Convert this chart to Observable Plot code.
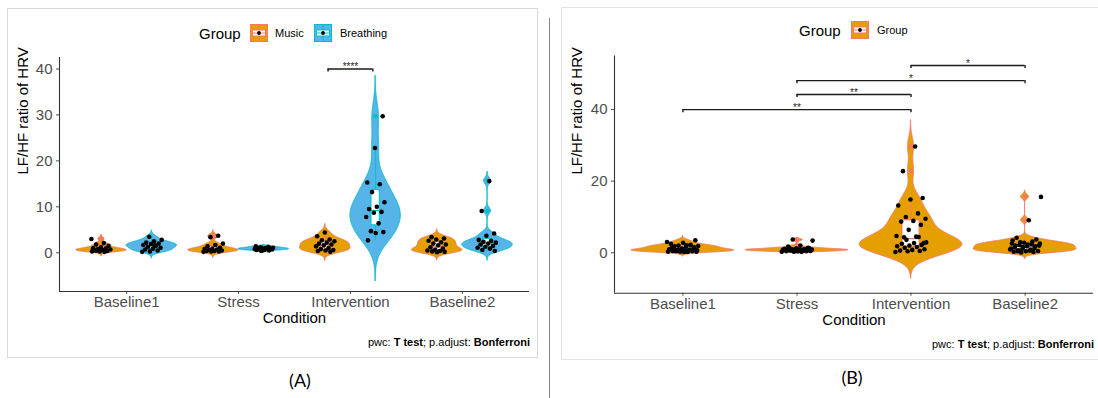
<!DOCTYPE html>
<html><head><meta charset="utf-8">
<script src="https://cdn.jsdelivr.net/npm/d3@7"></script>
<script src="https://cdn.jsdelivr.net/npm/@observablehq/plot@0.6"></script>
<style>
body{margin:0;background:#fff;font-family:'Liberation Sans',Arial,Helvetica,sans-serif;}
#page{position:relative;width:1098px;height:398px;overflow:hidden;background:#fff;}
.abs{position:absolute;white-space:nowrap;line-height:1;}
.vc{transform:translateY(-50%);}
</style></head><body><div id="page">
<div class="abs" style="left:7px;top:8px;width:529px;height:348px;border:1px solid #D9D9D9;"></div>
<div class="abs" style="left:561px;top:7px;width:545px;height:351px;border:1px solid #E3E3E3;"></div>
<div class="abs" style="left:549px;top:18px;width:1px;height:380px;background:#7F8A99;"></div>
<div id="plotA" class="abs" style="left:0;top:45px;width:540px;height:290px;"></div>
<div id="plotB" class="abs" style="left:550px;top:43px;width:548px;height:292px;"></div>
<div id="legA"></div><div id="legB"></div>
<div class="abs vc" style="right:568px;top:342px;font-size:11px;color:#000;">pwc: <b>T test</b>; p.adjust: <b>Bonferroni</b></div>
<div class="abs vc" style="right:4px;top:344px;font-size:11px;color:#000;">pwc: <b>T test</b>; p.adjust: <b>Bonferroni</b></div>
<div class="abs vc" style="left:300px;top:380px;font-size:18px;font-family:Lato,'Open Sans',sans-serif;transform:translate(-50%,-50%);">(A)</div>
<div class="abs vc" style="left:852px;top:377px;font-size:18px;font-family:Lato,'Open Sans',sans-serif;transform:translate(-50%,-50%);">(B)</div>
</div>
<script>
// ---------- data ----------
const conditions = ["Baseline1", "Stress", "Intervention", "Baseline2"];
const groups = ["Music", "Breathing"];
const musicBaseline1 = [3.0, 2.1, 1.8, 1.5, 1.2, 1.0, 0.9, 0.8, 0.7, 0.6, 0.5, 0.4, 0.3, 0.3, 0.2, 0.5];
const breathingBaseline1 = [3.5, 2.8, 2.5, 2.2, 2.0, 1.9, 1.7, 1.5, 1.3, 1.1, 0.9, 0.7, 0.5, 0.3, 0.2, 1.6];
const musicStress = [3.7, 3.4, 2.0, 1.7, 1.4, 1.1, 0.9, 0.8, 0.7, 0.6, 0.5, 0.4, 0.4, 0.3, 0.3, 0.2];
const breathingStress = [1.4, 1.3, 1.2, 1.1, 1.0, 1.0, 0.9, 0.9, 0.8, 0.8, 0.7, 0.7, 0.6, 0.6, 0.5, 0.4];
const musicIntervention = [4.4, 3.6, 2.9, 2.7, 2.5, 2.2, 2.0, 1.8, 1.6, 1.4, 1.0, 0.8, 0.6, 0.5, 0.4, 0.2];
const breathingIntervention = [29.7, 22.8, 15.3, 14.9, 13.2, 11.0, 10.0, 9.5, 8.9, 8.7, 7.8, 6.4, 4.7, 4.5, 4.3, 2.7];
const musicBaseline2 = [3.4, 3.1, 2.9, 2.6, 2.3, 2.0, 1.8, 1.6, 1.2, 0.9, 0.7, 0.5, 0.4, 0.3, 0.2, 0.1];
const breathingBaseline2 = [15.6, 9.1, 4.2, 3.7, 2.8, 2.6, 2.4, 2.2, 2.0, 1.8, 1.5, 1.3, 1.1, 0.9, 0.6, 0.4];
const yTicksA = [0, 10, 20, 30, 40];
const yTicksB = [0, 20, 40];
const bracketsA = [{cond: "Intervention", y: 40, label: "****"}];
const bracketsB = [
  {from: "Baseline1", to: "Intervention", y: 40, label: "**"},
  {from: "Stress", to: "Intervention", y: 44.2, label: "**"},
  {from: "Stress", to: "Baseline2", y: 48.1, label: "*"},
  {from: "Intervention", to: "Baseline2", y: 52.3, label: "*"}
];
const yLabel = "LF/HF ratio of HRV";
const xLabel = "Condition";

// ---------- styles ----------
const colors = {
  Music: {fill: "#E69F00", line: "#F8766D"},
  Breathing: {fill: "#56B4E9", line: "#00BFC4"},
  Group: {fill: "#E69F00", line: "#F8766D"}
};
const FONT = "'Liberation Sans', Arial, Helvetica, sans-serif";

const byCondGroup = {
  Baseline1: {Music: musicBaseline1, Breathing: breathingBaseline1},
  Stress: {Music: musicStress, Breathing: breathingStress},
  Intervention: {Music: musicIntervention, Breathing: breathingIntervention},
  Baseline2: {Music: musicBaseline2, Breathing: breathingBaseline2}
};

function kde(values) {
  const s = values.slice().sort(d3.ascending);
  const sd = d3.deviation(s);
  const iqr = d3.quantileSorted(s, 0.75) - d3.quantileSorted(s, 0.25);
  const lo = Math.min(sd, iqr / 1.34) || sd;
  const bw = 0.9 * lo * Math.pow(s.length, -0.2);
  const a = s[0] - 3 * bw, b = s[s.length - 1] + 3 * bw, n = 512;
  const out = [];
  for (let i = 0; i < n; i++) {
    const y = a + (b - a) * i / (n - 1);
    let d = 0;
    for (const v of s) { const u = (y - v) / bw; d += Math.exp(-0.5 * u * u); }
    out.push({y, d});
  }
  const m = d3.max(out, o => o.d);
  return out.map(o => ({y: o.y, w: o.d / m}));
}

function boxStats(values) {
  const s = values.slice().sort(d3.ascending);
  const q1 = d3.quantileSorted(s, 0.25), med = d3.quantileSorted(s, 0.5), q3 = d3.quantileSorted(s, 0.75);
  const iqr = q3 - q1, lf = q1 - 1.5 * iqr, hf = q3 + 1.5 * iqr;
  return {q1, med, q3,
    lo: d3.min(s.filter(v => v >= lf)), hi: d3.max(s.filter(v => v <= hf)),
    out: s.filter(v => v < lf || v > hf)};
}

function panel(opts) {
  const {sets, half, boxHalf, jitter, yDomain, yTicks, brackets, tip, ylabDx, xlabDy} = opts;
  const marks = [];
  for (const st of sets) {
    const rows = kde(st.values).map(o => ({y: o.y, x1: st.pos - half * o.w, x2: st.pos + half * o.w}));
    marks.push(Plot.areaX(rows, {y: "y", x1: "x1", x2: "x2", fill: st.col.fill, stroke: st.col.line, strokeWidth: 1}));
  }
  for (const st of sets) {
    const b = boxStats(st.values);
    marks.push(Plot.ruleX([{x: st.pos, y1: b.q3, y2: b.hi}, {x: st.pos, y1: b.lo, y2: b.q1}], {x: "x", y1: "y1", y2: "y2", stroke: st.col.line, strokeWidth: 1}));
    marks.push(Plot.rect([{x1: st.pos - boxHalf, x2: st.pos + boxHalf, y1: b.q1, y2: b.q3}], {x1: "x1", x2: "x2", y1: "y1", y2: "y2", fill: "white", stroke: st.col.line, strokeWidth: 1}));
    marks.push(Plot.ruleY([{y: b.med, x1: st.pos - boxHalf, x2: st.pos + boxHalf}], {y: "y", x1: "x1", x2: "x2", stroke: st.col.line, strokeWidth: 1.2}));
    marks.push(Plot.dot(b.out.map(v => ({x: st.pos, y: v})), {x: "x", y: "y", r: 2.3, fill: st.col.line}));
  }
  sets.forEach((st, k) => {
    const pts = st.values.map((v, i) => {
      const f = ((i * 0.6180339887 + k * 0.37) % 1) * 2 - 1;
      return {x: st.pos + jitter * f, y: v};
    });
    marks.push(Plot.dot(pts, {x: "x", y: "y", r: 2.3, fill: "black"}));
  });
  const tips = brackets.flatMap(b => [{x: b.x1, y1: b.y, y2: b.y - tip}, {x: b.x2, y1: b.y, y2: b.y - tip}]);
  marks.push(Plot.ruleY(brackets, {y: "y", x1: "x1", x2: "x2", stroke: "#1a1a1a", strokeWidth: 1.4}));
  marks.push(Plot.ruleX(tips, {x: "x", y1: "y1", y2: "y2", stroke: "#1a1a1a", strokeWidth: 1.4}));
  marks.push(Plot.text(brackets, {x: b => (b.x1 + b.x2) / 2, y: "y", text: "label", lineAnchor: "bottom", dy: 1, fontSize: 10, fill: "#222"}));
  marks.push(Plot.axisX({ticks: [1, 2, 3, 4], tickFormat: d => conditions[d - 1], tickSize: 3, tickPadding: 2, fontSize: 15, color: "#4D4D4D", label: null}));
  marks.push(Plot.axisY({ticks: yTicks, tickSize: 3, tickPadding: 4, fontSize: 15, color: "#4D4D4D", label: null}));
  marks.push(Plot.ruleX([0.4], {stroke: "#333", strokeWidth: 1.1}));
  marks.push(Plot.ruleY([yDomain[0]], {stroke: "#333", strokeWidth: 1.1}));
  marks.push(Plot.text([yLabel], {text: d => d, frameAnchor: "left", dx: ylabDx, rotate: -90, fontSize: 15, fill: "black"}));
  marks.push(Plot.text([xLabel], {text: d => d, frameAnchor: "bottom", dy: xlabDy, fontSize: 15, fill: "black"}));
  return Plot.plot({
    width: opts.width, height: opts.height,
    marginLeft: opts.ml, marginRight: opts.mr, marginTop: opts.mt, marginBottom: opts.mb,
    x: {type: "linear", domain: [0.4, 4.6]},
    y: {type: "linear", domain: yDomain},
    style: {fontFamily: FONT, fontSize: "15px", background: "transparent", overflow: "visible"},
    marks
  });
}

const setsA = [];
conditions.forEach((c, ci) => groups.forEach((g, gi) => {
  setsA.push({pos: ci + 1 + (gi === 0 ? -0.225 : 0.225), values: byCondGroup[c][g], col: colors[g]});
}));
const brA = bracketsA.map(b => {
  const p = conditions.indexOf(b.cond) + 1;
  return {x1: p - 0.2, x2: p + 0.2, y: b.y, label: b.label};
});
document.getElementById("plotA").appendChild(panel({
  sets: setsA, half: 0.225, boxHalf: 0.037, jitter: 0.09,
  yDomain: [-8.43, 42.5], yTicks: yTicksA, brackets: brA, tip: 0.65,
  width: 540, height: 290, ml: 59, mr: 11, mt: 12, mb: 44, ylabDx: -36.5, xlabDy: 31
}));

const setsB = conditions.map((c, ci) => ({pos: ci + 1, values: [...byCondGroup[c].Music, ...byCondGroup[c].Breathing], col: colors.Group}));
const brB = bracketsB.map(b => ({x1: conditions.indexOf(b.from) + 1, x2: conditions.indexOf(b.to) + 1, y: b.y, label: b.label}));
document.getElementById("plotB").appendChild(panel({
  sets: setsB, half: 0.45, boxHalf: 0.075, jitter: 0.14,
  yDomain: [-11.3, 55], yTicks: yTicksB, brackets: brB, tip: 0.85,
  width: 548, height: 292, ml: 64, mr: 5, mt: 12.4, mb: 42.3, ylabDx: -37.3, xlabDy: 31.6
}));

function key(col) {
  return `<svg width="18" height="18" style="display:block"><rect x="0.5" y="0.5" width="17" height="17" fill="${col.fill}" stroke="${col.line}"/>` +
    `<line x1="9" y1="1" x2="9" y2="17" stroke="${col.line}"/><rect x="2.5" y="6" width="13" height="6" fill="white" stroke="${col.line}"/>` +
    `<line x1="2.5" x2="15.5" y1="9" y2="9" stroke="${col.line}"/><circle cx="9" cy="9" r="1.9" fill="black"/></svg>`;
}
document.getElementById("legA").innerHTML =
  `<div class="abs vc" style="left:199px;top:33px;font-size:15px;">Group</div>` +
  `<div class="abs" style="left:250px;top:24px;">${key(colors.Music)}</div>` +
  `<div class="abs vc" style="left:275px;top:33px;font-size:11px;">${groups[0]}</div>` +
  `<div class="abs" style="left:314px;top:24px;">${key(colors.Breathing)}</div>` +
  `<div class="abs vc" style="left:340px;top:33px;font-size:11px;">${groups[1]}</div>`;
document.getElementById("legB").innerHTML =
  `<div class="abs vc" style="left:799px;top:29.5px;font-size:15px;">Group</div>` +
  `<div class="abs" style="left:851px;top:20.5px;">${key(colors.Group)}</div>` +
  `<div class="abs vc" style="left:877px;top:29.5px;font-size:11px;">Group</div>`;
</script></body></html>
